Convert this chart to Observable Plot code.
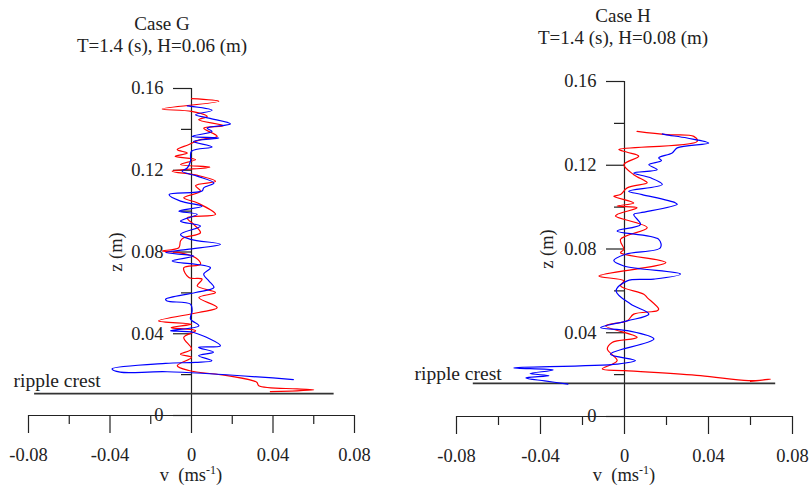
<!DOCTYPE html>
<html><head><meta charset="utf-8">
<script src="https://cdn.jsdelivr.net/npm/d3@7"></script>
<script src="https://cdn.jsdelivr.net/npm/@observablehq/plot@0.6"></script>
<style>
body{margin:0;background:#fff;}
#wrap{position:relative;width:809px;height:485px;font-family:"Liberation Serif",serif;color:#222;overflow:hidden;}
.panel{position:absolute;top:0;}
.t{position:absolute;white-space:nowrap;transform:translateX(-50%);font-size:19px;line-height:19px;}
.xl{font-size:18.5px;line-height:18px;}
.xl sup{font-size:12px;vertical-align:7px;line-height:0;}
</style></head><body><div id="wrap"></div>
<script>
// ---- tick values ----
const xMajor = [-0.08, -0.04, 0, 0.04, 0.08];
const xMinor = [-0.06, -0.02, 0.02, 0.06];
const yMajor = [0, 0.04, 0.08, 0.12, 0.16];
const yMinor = [0.02, 0.06, 0.10, 0.14];

// ---- panel titles ----
const titles = ["Case G", "Case H"];
const subtitles = ["T=1.4 (s), H=0.06 (m)", "T=1.4 (s), H=0.08 (m)"];

// ---- ripple crest elevation (m) and extent (v) ----
const crestZ = [0.0107, 0.0158];
const crestV = [[-0.077, 0.070], [-0.072, 0.072]];

// ---- Case G profiles: [z, v] ----
const gRed = [[0.155,0.000],[0.1537,0.0134],[0.150,-0.0144],[0.1488,0.000],[0.1463,0.0077],[0.1447,0.0035],[0.1418,0.0157],[0.1406,0.006],[0.1366,0.0126],[0.135,0.0044],[0.1325,-0.0015],[0.1301,-0.007],[0.1284,-0.002],[0.1268,-0.008],[0.1252,0.002],[0.1228,-0.0054],[0.1215,0.009],[0.1195,-0.0095],[0.1175,0.003],[0.1146,0.0118],[0.1125,0.002],[0.1098,0.0044],[0.1065,-0.0038],[0.104,0.003],[0.0984,0.0118],[0.0967,-0.0021],[0.0935,0.0011],[0.0894,0.0044],[0.087,-0.0038],[0.0854,-0.0054],[0.0821,-0.0062],[0.0805,-0.0144],[0.0797,-0.006],[0.0772,0.002],[0.074,0.0044],[0.0723,-0.0038],[0.0675,-0.0013],[0.0667,0.0052],[0.0634,0.0028],[0.0602,0.0118],[0.0577,0.0036],[0.0528,0.0126],[0.0504,0.0035],[0.0463,-0.0162],[0.0447,0.000],[0.043,-0.010],[0.0415,0.002],[0.0382,-0.0038],[0.0325,0.000],[0.030,-0.0054],[0.0284,0.000],[0.0244,-0.007],[0.022,-0.0013],[0.0195,0.0175],[0.0163,0.032],[0.0146,0.033],[0.013,0.0518],[0.0125,0.060],[0.0117,0.0387]];
const gBlue = [[0.1515,-0.002],[0.1493,0.0101],[0.1472,0.002],[0.1455,0.0085],[0.1427,0.0191],[0.1406,0.0077],[0.139,0.0101],[0.1366,0.0003],[0.1358,0.0134],[0.1341,0.001],[0.1314,0.0101],[0.1293,0.000],[0.1244,-0.0005],[0.1211,-0.0021],[0.1195,-0.0046],[0.1171,0.0028],[0.1138,0.011],[0.1114,0.006],[0.1098,0.0052],[0.1081,-0.011],[0.1049,-0.0054],[0.1024,0.0052],[0.100,-0.0062],[0.0984,0.0028],[0.0951,-0.0054],[0.0927,0.0044],[0.0886,-0.0054],[0.0862,-0.0005],[0.0838,0.0142],[0.0813,-0.0021],[0.0797,-0.0127],[0.078,0.0011],[0.0756,-0.0095],[0.0723,0.0093],[0.0691,0.006],[0.0659,0.0085],[0.0626,0.011],[0.0602,0.002],[0.0569,-0.0127],[0.056,-0.012],[0.0545,-0.0005],[0.0512,0.0003],[0.0472,-0.0005],[0.0439,0.0036],[0.0415,-0.0103],[0.0406,0.0011],[0.0341,0.0142],[0.0333,0.0035],[0.031,0.0108],[0.0293,0.0035],[0.0268,0.010],[0.026,0.002],[0.0255,-0.0127],[0.0228,-0.039],[0.0212,-0.035],[0.0214,-0.012],[0.0176,0.050]];

// ---- Case H profiles: [z, v] ----
const hRed = [[0.1362,0.006],[0.1346,0.0203],[0.1338,0.033],[0.1314,0.0346],[0.1275,-0.0027],[0.1262,0.0013],[0.1243,0.0068],[0.1203,-0.0003],[0.1155,0.0044],[0.1124,0.010],[0.1116,0.0108],[0.1092,0.0013],[0.106,-0.0019],[0.1052,-0.0051],[0.102,0.0044],[0.1005,-0.0035],[0.0997,0.006],[0.0965,-0.0035],[0.0957,-0.0043],[0.0902,0.0108],[0.0846,-0.0019],[0.0798,-0.0003],[0.0782,-0.0019],[0.0735,0.0197],[0.0671,-0.0122],[0.0648,-0.0003],[0.0624,-0.0019],[0.0584,0.0092],[0.0568,0.0108],[0.0513,0.0163],[0.0505,0.0156],[0.0489,0.0044],[0.0457,0.0013],[0.0433,-0.009],[0.0378,0.006],[0.0354,-0.0059],[0.0322,-0.0082],[0.0267,-0.0035],[0.0227,-0.0106],[0.0219,0.000],[0.0195,0.0362],[0.0171,0.059],[0.0178,0.0695],[0.0168,0.060]];
const hBlue = [[0.135,0.018],[0.1346,0.0195],[0.133,0.0298],[0.1306,0.0401],[0.1283,0.0251],[0.1259,0.0227],[0.1235,0.0163],[0.1222,0.0176],[0.1203,0.0116],[0.1179,0.0156],[0.1163,0.0044],[0.114,0.0124],[0.1108,0.018],[0.1076,0.002],[0.106,0.0084],[0.102,0.0243],[0.1013,0.0251],[0.0973,0.0076],[0.0965,0.0044],[0.0917,0.0076],[0.0886,-0.0035],[0.0846,0.0163],[0.0806,0.0171],[0.0775,0.0005],[0.0745,-0.0051],[0.0719,-0.0003],[0.068,0.0267],[0.0656,0.014],[0.0648,0.0013],[0.060,-0.004],[0.0537,0.0029],[0.0489,0.0116],[0.0457,0.0013],[0.0425,-0.0114],[0.041,0.0013],[0.037,0.014],[0.0298,-0.0067],[0.0267,0.0052],[0.025,-0.0035],[0.0232,-0.0527],[0.0222,-0.034],[0.0205,-0.045],[0.0195,-0.036],[0.0184,-0.047],[0.017,-0.038],[0.0155,-0.027]];

const xDomain = [-0.08, 0.08];
const yDomain = [0, 0.16];
const fmt = d => d === 0 ? "0" : d.toFixed(2);
const toRows = arr => arr.map(([z, v]) => ({z, v}));

const layouts = [
  {left: 0, width: 404, mL: 28, mR: 50, mT: 88, mB: 70, labelDx: -15, labelDy: -13, zDx: -75, titleTop: 14, subTop: 36, red: gRed, blue: gBlue},
  {left: 404, width: 405, mL: 52, mR: 17, mT: 81, mB: 69, labelDx: -42, labelDy: -10, zDx: -77, titleTop: 6, subTop: 28, red: hRed, blue: hBlue}
];

const wrap = document.getElementById("wrap");
layouts.forEach((L, i) => {
  const pxPerUnit = (L.width - L.mL - L.mR) / (xDomain[1] - xDomain[0]);
  const majLen = 18 / pxPerUnit, minLen = 10 / pxPerUnit;
  const svg = Plot.plot({
    width: L.width, height: 485,
    marginLeft: L.mL, marginRight: L.mR, marginTop: L.mT, marginBottom: L.mB,
    x: {domain: xDomain},
    y: {domain: yDomain, axis: null},
    style: {fontFamily: "Liberation Serif, serif", fontSize: "18.5px", color: "#222", background: "transparent", overflow: "visible"},
    marks: [
      Plot.axisX({ticks: xMajor, tickSize: 18, tickPadding: 14, tickFormat: fmt, label: null, anchor: "bottom", strokeWidth: 1.2, fontSize: 18.5}),
      Plot.axisX({ticks: xMinor, tickSize: 9, tickFormat: () => "", label: null, anchor: "bottom", strokeWidth: 1.2}),
      Plot.ruleY([0], {x1: xDomain[0], x2: xDomain[1], stroke: "#222", strokeWidth: 1.2}),
      Plot.ruleX([0], {y1: yDomain[0], y2: yDomain[1], stroke: "#222", strokeWidth: 1.2}),
      Plot.ruleY(yMajor, {y: d => d, x1: -majLen, x2: 0, stroke: "#222", strokeWidth: 1.2}),
      Plot.ruleY(yMinor, {y: d => d, x1: -minLen, x2: 0, stroke: "#222", strokeWidth: 1.2}),
      Plot.text(yMajor, {x: 0, y: d => d, text: fmt, textAnchor: "end", dx: -28, fill: "#222", fontSize: 18.5}),
      Plot.text(["z (m)"], {x: 0, y: 0.08, rotate: -90, dx: L.zDx, fill: "#222", fontSize: 18.5}),
      Plot.ruleY([crestZ[i]], {x1: crestV[i][0], x2: crestV[i][1], stroke: "#333", strokeWidth: 1.6}),
      Plot.text(["ripple crest"], {y: crestZ[i], frameAnchor: "left", textAnchor: "start", dx: L.labelDx, dy: L.labelDy, fill: "#222", fontSize: 19.5}),
      Plot.line(toRows(L.red), {x: "v", y: "z", stroke: "#ff0000", strokeWidth: 1.2, curve: "catmull-rom"}),
      Plot.line(toRows(L.blue), {x: "v", y: "z", stroke: "#0000ff", strokeWidth: 1.2, curve: "catmull-rom"})
    ]
  });
  svg.classList.add("panel");
  svg.style.left = L.left + "px";
  wrap.appendChild(svg);

  const x0 = L.left + L.mL + (0 - xDomain[0]) * pxPerUnit;
  const centre = L.left + (i === 0 ? 162 : 219);
  const t = document.createElement("div");
  t.className = "t"; t.textContent = titles[i];
  t.style.left = centre + "px"; t.style.top = L.titleTop + "px";
  wrap.appendChild(t);
  const s = document.createElement("div");
  s.className = "t"; s.textContent = subtitles[i];
  s.style.left = centre + "px"; s.style.top = L.subTop + "px";
  wrap.appendChild(s);
  const xl = document.createElement("div");
  xl.className = "t xl";
  xl.innerHTML = "v&nbsp;&nbsp;(ms<sup>-1</sup>)";
  xl.style.left = x0 + "px"; xl.style.top = "466px";
  wrap.appendChild(xl);
});
</script></body></html>
